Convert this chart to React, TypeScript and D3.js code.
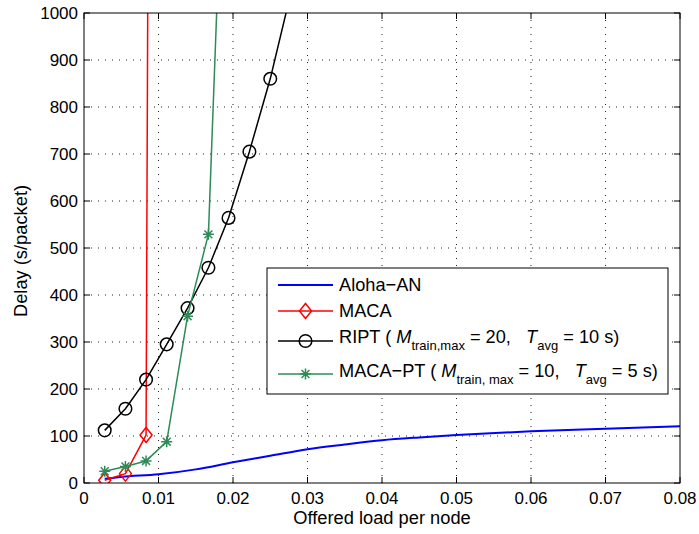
import * as d3 from "d3";

// offered load per node (x) and delay (y)
const loadAloha = [0.00278, 0.005, 0.01, 0.015, 0.02, 0.025, 0.03, 0.035, 0.04, 0.045, 0.05, 0.06, 0.07, 0.08];
const delayAloha = [9, 13, 18.5, 29, 44, 58, 72, 82, 91, 97, 102, 110, 115.5, 120.5];

const loadMACA = [0.00278, 0.00556, 0.00833, 0.0086];
const delayMACA = [6, 20, 102, 1200];

const loadRIPT = [0.00278, 0.00556, 0.00833, 0.0111, 0.0139, 0.0167, 0.0194, 0.0222, 0.025, 0.0278];
const delayRIPT = [112, 158, 220, 295, 372, 458, 564, 705, 860, 1045];

const loadPT = [0.00278, 0.00556, 0.00833, 0.0111, 0.0139, 0.0167, 0.0194];
const delayPT = [25, 35, 47, 88, 355, 529, 1680];

const xTicks = [0, 0.01, 0.02, 0.03, 0.04, 0.05, 0.06, 0.07, 0.08];
const yTicks = [0, 100, 200, 300, 400, 500, 600, 700, 800, 900, 1000];

const W = 699;
const H = 534;
const FONT = "'Liberation Sans', Arial, Helvetica, sans-serif";

const BLUE = "#0000ff";
const RED = "#ff0000";
const BLACK = "#000000";
const GREEN = "#2e8b57";

type Pt = [number, number];
const zip = (xs: number[], ys: number[]): Pt[] => xs.map((x, i) => [x, ys[i]]);

const Diamond = ({ cx, cy, color }: { cx: number; cy: number; color: string }) => (
  <path
    d={`M${cx},${cy - 7.5}L${cx + 6},${cy}L${cx},${cy + 7.5}L${cx - 6},${cy}Z`}
    fill="none"
    stroke={color}
    strokeWidth={1.5}
  />
);

const Circle = ({ cx, cy, color }: { cx: number; cy: number; color: string }) => (
  <circle cx={cx} cy={cy} r={6.3} fill="none" stroke={color} strokeWidth={1.5} />
);

const Star = ({ cx, cy, color }: { cx: number; cy: number; color: string }) => {
  const r = 5.5;
  const d = r * 0.72;
  return (
    <path
      d={`M${cx - r},${cy}L${cx + r},${cy}M${cx},${cy - r}L${cx},${cy + r}M${cx - d},${cy - d}L${cx + d},${cy + d}M${cx - d},${cy + d}L${cx + d},${cy - d}`}
      stroke={color}
      strokeWidth={1.5}
      fill="none"
    />
  );
};

export default function App() {
  const left = 84;
  const right = 680;
  const top = 13;
  const bottom = 483;

  const x = d3.scaleLinear().domain([0, 0.08]).range([left, right]);
  const y = d3.scaleLinear().domain([0, 1000]).range([bottom, top]);

  const line = d3.line<Pt>().x((d) => x(d[0])).y((d) => y(d[1]));
  const smooth = d3.line<Pt>().x((d) => x(d[0])).y((d) => y(d[1])).curve(d3.curveMonotoneX);

  const aloha = zip(loadAloha, delayAloha);
  const maca = zip(loadMACA, delayMACA);
  const ript = zip(loadRIPT, delayRIPT);
  const pt = zip(loadPT, delayPT);

  const inView = (d: Pt) => d[1] <= 1000;

  // legend geometry
  const lgX = 267;
  const lgY = 268;
  const lgW = 401;
  const lgH = 126;
  const l1 = 278;
  const l2 = 333;
  const lm = (l1 + l2) / 2;
  const tx = 339;
  const rows = [285, 311, 341, 374];
  const bases = [291, 317, 343, 377];
  const pre = { whiteSpace: "pre" as const };

  return (
    <svg
      width={W}
      height={H}
      style={{ position: "absolute", left: 0, top: 0, display: "block", background: "#fff" }}
      fontFamily={FONT}
    >
      <defs>
        <clipPath id="plotClip">
          <rect x={left} y={top} width={right - left} height={bottom - top} />
        </clipPath>
      </defs>
      <rect x={0} y={0} width={W} height={H} fill="#fff" />

      {/* grid */}
      <g stroke="#222" strokeWidth={1} strokeDasharray="1,6">
        {xTicks.slice(1, -1).map((t) => (
          <line key={"gx" + t} x1={x(t)} x2={x(t)} y1={top} y2={bottom} />
        ))}
        {yTicks.slice(1, -1).map((t) => (
          <line key={"gy" + t} x1={left} x2={right} y1={y(t)} y2={y(t)} />
        ))}
      </g>

      {/* ticks on all sides */}
      <g stroke="#000" strokeWidth={1}>
        {xTicks.map((t) => (
          <g key={"tx" + t}>
            <line x1={x(t)} x2={x(t)} y1={bottom} y2={bottom - 6} />
            <line x1={x(t)} x2={x(t)} y1={top} y2={top + 6} />
          </g>
        ))}
        {yTicks.map((t) => (
          <g key={"ty" + t}>
            <line x1={left} x2={left + 6} y1={y(t)} y2={y(t)} />
            <line x1={right} x2={right - 6} y1={y(t)} y2={y(t)} />
          </g>
        ))}
      </g>

      {/* series */}
      <g clipPath="url(#plotClip)" fill="none" strokeLinejoin="round">
        <path d={smooth(aloha) || ""} stroke={BLUE} strokeWidth={2} />
        <path d={line(maca) || ""} stroke={RED} strokeWidth={1.5} />
        {maca.filter(inView).map((d, i) => (
          <Diamond key={"m" + i} cx={x(d[0])} cy={y(d[1])} color={RED} />
        ))}
        <path d={line(ript) || ""} stroke={BLACK} strokeWidth={1.5} />
        {ript.filter(inView).map((d, i) => (
          <Circle key={"r" + i} cx={x(d[0])} cy={y(d[1])} color={BLACK} />
        ))}
        <path d={line(pt) || ""} stroke={GREEN} strokeWidth={1.5} />
        {pt.filter(inView).map((d, i) => (
          <Star key={"p" + i} cx={x(d[0])} cy={y(d[1])} color={GREEN} />
        ))}
      </g>

      {/* box */}
      <rect x={left} y={top} width={right - left} height={bottom - top} fill="none" stroke="#000" strokeWidth={1} />

      {/* tick labels */}
      <g fontSize={17} fill="#000">
        {xTicks.map((t) => (
          <text key={"lx" + t} x={x(t)} y={504} textAnchor="middle">
            {t === 0 ? "0" : d3.format(".2f")(t)}
          </text>
        ))}
        {yTicks.map((t) => (
          <text key={"ly" + t} x={left - 6} y={y(t) + 6} textAnchor="end">
            {t}
          </text>
        ))}
      </g>

      {/* axis titles */}
      <text x={(left + right) / 2} y={524} textAnchor="middle" fontSize={18.3}>
        Offered load per node
      </text>
      <text transform={`translate(27,${(top + bottom) / 2 + 3}) rotate(-90)`} textAnchor="middle" fontSize={18.3}>
        Delay (s/packet)
      </text>

      {/* legend */}
      <g>
        <rect x={lgX} y={lgY} width={lgW} height={lgH} fill="#fff" stroke="#000" strokeWidth={1} />
        <line x1={l1} x2={l2} y1={rows[0]} y2={rows[0]} stroke={BLUE} strokeWidth={2} />
        <line x1={l1} x2={l2} y1={rows[1]} y2={rows[1]} stroke={RED} strokeWidth={1.5} />
        <Diamond cx={lm} cy={rows[1]} color={RED} />
        <line x1={l1} x2={l2} y1={rows[2]} y2={rows[2]} stroke={BLACK} strokeWidth={1.5} />
        <Circle cx={lm} cy={rows[2]} color={BLACK} />
        <line x1={l1} x2={l2} y1={rows[3]} y2={rows[3]} stroke={GREEN} strokeWidth={1.5} />
        <Star cx={lm} cy={rows[3]} color={GREEN} />

        <g fontSize={18.2} fill="#000">
          <text x={tx} y={bases[0]} style={pre}>Aloha−AN</text>
          <text x={tx} y={bases[1]} style={pre}>MACA</text>
          <text x={tx} y={bases[2]} style={pre} xmlSpace="preserve">
            <tspan>{"RIPT ( "}</tspan>
            <tspan fontStyle="italic">M</tspan>
            <tspan fontSize={13} dy={6.5}>train,max</tspan>
            <tspan dy={-6.5}>{" = 20,   "}</tspan>
            <tspan fontStyle="italic">T</tspan>
            <tspan fontSize={13} dy={6.5}>avg</tspan>
            <tspan dy={-6.5}>{" = 10 s)"}</tspan>
          </text>
          <text x={tx} y={bases[3]} style={pre} xmlSpace="preserve">
            <tspan>{"MACA−PT ( "}</tspan>
            <tspan fontStyle="italic">M</tspan>
            <tspan fontSize={13} dy={6.5}>train, max</tspan>
            <tspan dy={-6.5}>{" = 10,   "}</tspan>
            <tspan fontStyle="italic">T</tspan>
            <tspan fontSize={13} dy={6.5}>avg</tspan>
            <tspan dy={-6.5}>{" = 5 s)"}</tspan>
          </text>
        </g>
      </g>
    </svg>
  );
}
